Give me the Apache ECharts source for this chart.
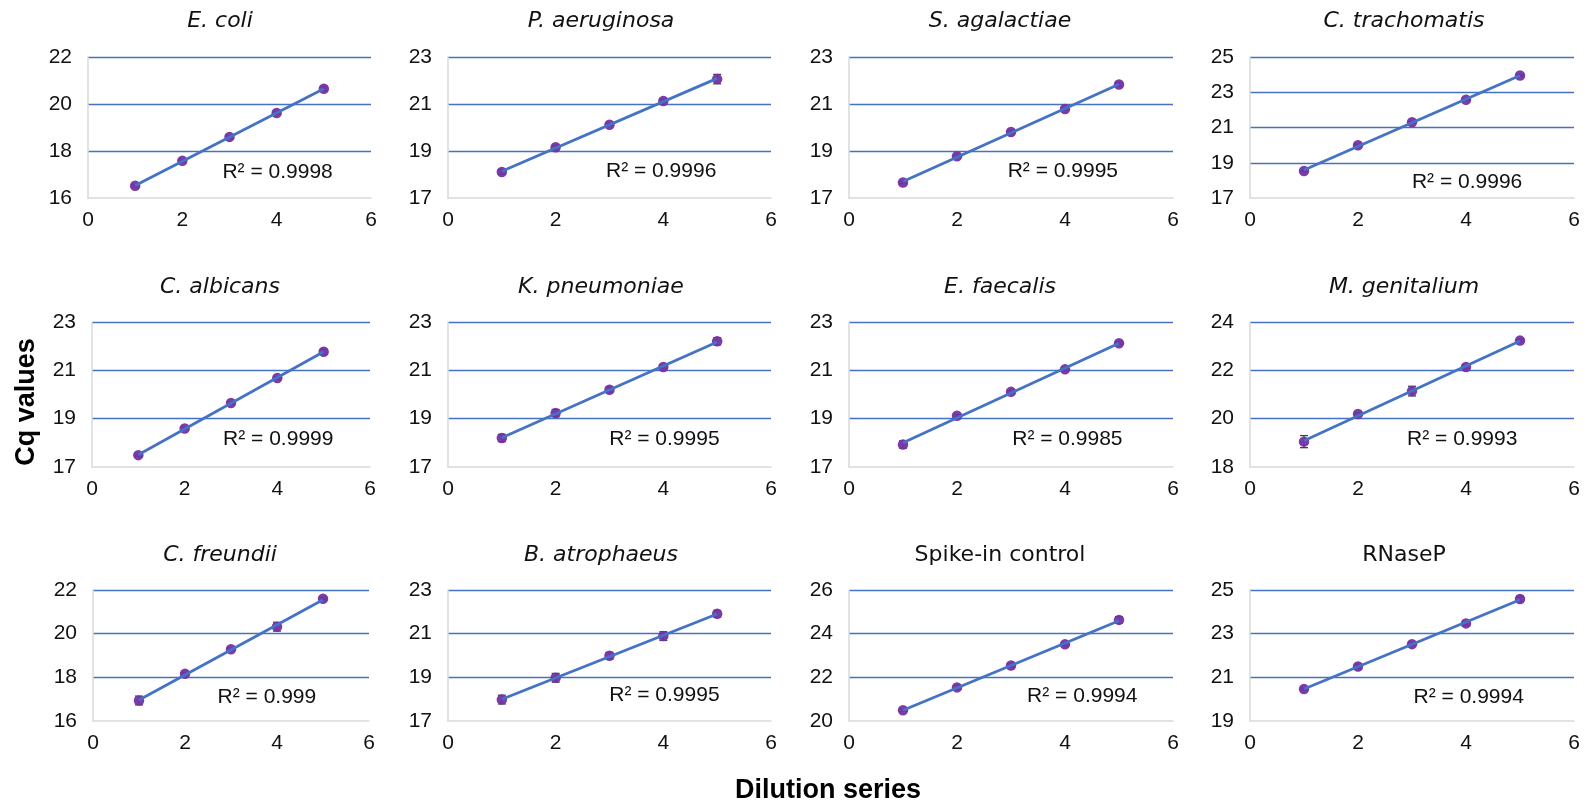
<!DOCTYPE html>
<html>
<head>
<meta charset="utf-8">
<script src="https://cdn.jsdelivr.net/npm/echarts@6/dist/echarts.min.js"></script>
<style>
  html, body { margin: 0; padding: 0; background: #fff; }
  #chart { width: 1585px; height: 805px; }
</style>
</head>
<body>
<div id="chart"></div>
<script>
// dilution steps (x)
const dilution = [1, 2, 3, 4, 5];

// panel names, and whether the name is a species (italic)
const names = [
  "E. coli", "P. aeruginosa", "S. agalactiae", "C. trachomatis",
  "C. albicans", "K. pneumoniae", "E. faecalis", "M. genitalium",
  "C. freundii", "B. atrophaeus", "Spike-in control", "RNaseP"
];
const italic = [true, true, true, true, true, true, true, true, true, true, false, false];

// mean Cq values per panel
const cqEcoli = [16.52, 17.58, 18.60, 19.62, 20.65];
const cqPaer = [18.11, 19.16, 20.12, 21.13, 22.06];
const cqSaga = [17.66, 18.78, 19.81, 20.79, 21.83];
const cqCtra = [18.53, 19.99, 21.30, 22.57, 23.95];
const cqCalb = [17.49, 18.59, 19.65, 20.68, 21.77];
const cqKpne = [18.20, 19.23, 20.20, 21.14, 22.20];
const cqEfae = [17.93, 19.12, 20.11, 21.04, 22.12];
const cqMgen = [19.05, 20.19, 21.14, 22.14, 23.23];
const cqCfre = [16.94, 18.16, 19.29, 20.32, 21.60];
const cqBatr = [17.98, 18.98, 19.99, 20.89, 21.91];
const cqSpike = [20.49, 21.54, 22.54, 23.51, 24.63];
const cqRnp = [20.46, 21.50, 22.52, 23.47, 24.59];
const cq = [cqEcoli, cqPaer, cqSaga, cqCtra, cqCalb, cqKpne, cqEfae, cqMgen, cqCfre, cqBatr, cqSpike, cqRnp];

// error bar half-lengths (SD)
const sdEcoli = [0.05, 0.05, 0.05, 0.05, 0.08];
const sdPaer = [0.10, 0.08, 0.05, 0.05, 0.20];
const sdSaga = [0.05, 0.05, 0.05, 0.05, 0.08];
const sdCtra = [0.05, 0.05, 0.05, 0.05, 0.05];
const sdCalb = [0.05, 0.05, 0.05, 0.05, 0.10];
const sdKpne = [0.15, 0.15, 0.10, 0.08, 0.15];
const sdEfae = [0.15, 0.05, 0.05, 0.05, 0.05];
const sdMgen = [0.25, 0.05, 0.20, 0.08, 0.05];
const sdCfre = [0.20, 0.05, 0.05, 0.20, 0.05];
const sdBatr = [0.20, 0.20, 0.15, 0.20, 0.15];
const sdSpike = [0.05, 0.10, 0.08, 0.08, 0.15];
const sdRnp = [0.05, 0.10, 0.08, 0.08, 0.12];
const sd = [sdEcoli, sdPaer, sdSaga, sdCtra, sdCalb, sdKpne, sdEfae, sdMgen, sdCfre, sdBatr, sdSpike, sdRnp];

// R squared of each fit
const r2 = ["0.9998", "0.9996", "0.9995", "0.9996", "0.9999", "0.9995",
            "0.9985", "0.9993", "0.999", "0.9995", "0.9994", "0.9994"];

// y axis ranges (min, max), ticks every 2
const yMin = [16, 17, 17, 17, 17, 17, 17, 18, 16, 17, 20, 19];
const yMax = [22, 23, 23, 25, 23, 23, 23, 24, 22, 23, 26, 25];

// ---- layout (pixels) ----
const rowTop = [57, 322, 590];
const rowH = [141, 145, 131];
const colLeft = [[88, 92, 93], 448, 849, 1250];
const colW = [[283, 278, 276], 323, 324, 324];
const titleX = [220, 601, 1000, 1404];
const titleY = [21, 287, 555];
// R² label centre as fraction of plot width / height
const r2Pos = [
  [0.67, 0.82], [0.66, 0.81], [0.66, 0.81], [0.67, 0.89],
  [0.67, 0.81], [0.67, 0.81], [0.674, 0.81], [0.655, 0.81],
  [0.63, 0.82], [0.67, 0.80], [0.72, 0.81], [0.675, 0.82]
];

const BLUE = "#4472C4";
const PURPLE = "#7432A4";
const TXT = "#111";
const FONT = "Liberation Sans, Arial, sans-serif";

function fit(xs, ys) {
  const n = xs.length;
  const mx = xs.reduce((a, b) => a + b, 0) / n;
  const my = ys.reduce((a, b) => a + b, 0) / n;
  let sxy = 0, sxx = 0;
  for (let i = 0; i < n; i++) {
    sxy += (xs[i] - mx) * (ys[i] - my);
    sxx += (xs[i] - mx) * (xs[i] - mx);
  }
  const b = sxy / sxx;
  return x => my + b * (x - mx);
}

const grids = [], xAxes = [], yAxes = [], series = [], graphics = [];

names.forEach((name, i) => {
  const r = Math.floor(i / 4), c = i % 4;
  const left = Array.isArray(colLeft[c]) ? colLeft[c][r] : colLeft[c];
  const width = Array.isArray(colW[c]) ? colW[c][r] : colW[c];
  const top = rowTop[r], height = rowH[r];

  grids.push({ left, top, width, height, containLabel: false });

  xAxes.push({
    type: "value", gridIndex: i, min: 0, max: 6, interval: 2,
    axisLine: { show: true, lineStyle: { color: "#d9d9d9", width: 1.5 } },
    axisTick: { show: false },
    splitLine: { show: false },
    axisLabel: { color: TXT, fontSize: 21, fontFamily: FONT, margin: 12 }
  });
  yAxes.push({
    type: "value", gridIndex: i, min: yMin[i], max: yMax[i], interval: 2,
    axisLine: { show: true, lineStyle: { color: "#d9d9d9", width: 1.5 } },
    axisTick: { show: false },
    splitLine: { show: true, showMinLine: false, lineStyle: { color: BLUE, width: 1.4 } },
    axisLabel: { color: TXT, fontSize: 21, fontFamily: FONT, margin: 16 }
  });

  const pts = dilution.map((x, k) => [x, cq[i][k], sd[i][k]]);

  // error bars
  series.push({
    type: "custom", xAxisIndex: i, yAxisIndex: i, z: 2,
    data: pts,
    renderItem: (params, api) => {
      const x = api.value(0), y = api.value(1), e = api.value(2);
      const hi = api.coord([x, y + e]);
      const lo = api.coord([x, y - e]);
      const w = 4;
      const st = { stroke: "#444", lineWidth: 1.3 };
      return {
        type: "group",
        children: [
          { type: "line", shape: { x1: hi[0], y1: hi[1], x2: lo[0], y2: lo[1] }, style: st },
          { type: "line", shape: { x1: hi[0] - w, y1: hi[1], x2: hi[0] + w, y2: hi[1] }, style: st },
          { type: "line", shape: { x1: lo[0] - w, y1: lo[1], x2: lo[0] + w, y2: lo[1] }, style: st }
        ]
      };
    }
  });

  // points
  series.push({
    type: "scatter", xAxisIndex: i, yAxisIndex: i, z: 3,
    symbol: "circle", symbolSize: 10.5,
    itemStyle: { color: PURPLE, opacity: 0.95 },
    data: pts.map(p => [p[0], p[1]])
  });

  // linear trendline
  const f = fit(dilution, cq[i]);
  const x0 = dilution[0], x1 = dilution[dilution.length - 1];
  series.push({
    type: "line", xAxisIndex: i, yAxisIndex: i, z: 4,
    symbol: "none", silent: true,
    lineStyle: { color: BLUE, width: 2.8 },
    data: [[x0, f(x0)], [x1, f(x1)]]
  });

  // panel title
  graphics.push({
    type: "text", x: titleX[c], y: titleY[r],
    style: {
      text: name, fill: TXT,
      font: (italic[i] ? "italic " : "") + "22px DejaVu Sans, sans-serif",
      textAlign: "center", textVerticalAlign: "middle"
    }
  });

  // R² label
  graphics.push({
    type: "text",
    x: left + r2Pos[i][0] * width,
    y: top + r2Pos[i][1] * height,
    style: {
      text: "R\u00B2 = " + r2[i], fill: TXT,
      font: "21px " + FONT,
      textAlign: "center", textVerticalAlign: "middle"
    }
  });
});

// shared axis titles
graphics.push({
  type: "text", x: 27, y: 402, rotation: Math.PI / 2,
  style: {
    text: "Cq values", fill: "#000",
    font: "bold 27px " + FONT,
    textAlign: "center", textVerticalAlign: "middle"
  }
});
graphics.push({
  type: "text", x: 828, y: 791,
  style: {
    text: "Dilution series", fill: "#000",
    font: "bold 27px " + FONT,
    textAlign: "center", textVerticalAlign: "middle"
  }
});

const chart = echarts.init(document.getElementById("chart"), null, { renderer: "canvas" });
chart.setOption({
  animation: false,
  backgroundColor: "#fff",
  grid: grids,
  xAxis: xAxes,
  yAxis: yAxes,
  series,
  graphic: graphics
});
</script>
</body>
</html>
